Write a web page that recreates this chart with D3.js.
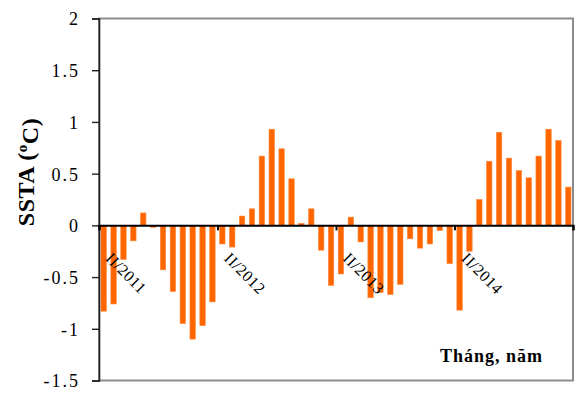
<!DOCTYPE html>
<html>
<head>
<meta charset='UTF-8'>
<title>SSTA</title>
<script src='https://d3js.org/d3.v7.min.js'></script>
<style>
  body { margin: 0; background: #fff; }
</style>
</head>
<body>
<div id='chart'></div>
<script>
// monthly SSTA, Jan 2011 - Dec 2014
var months = d3.range(48);
var ssta = [
  -0.83, -0.76, -0.33, -0.15, 0.12, -0.02, -0.43, -0.64, -0.95, -1.10, -0.97, -0.74,
  -0.18, -0.21, 0.09, 0.16, 0.67, 0.93, 0.74, 0.45, 0.02, 0.16, -0.24, -0.58,
  -0.47, 0.08, -0.16, -0.70, -0.65, -0.67, -0.57, -0.13, -0.22, -0.18, -0.05, -0.37,
  -0.82, -0.25, 0.25, 0.62, 0.90, 0.65, 0.53, 0.46, 0.67, 0.93, 0.82, 0.37
];
var yTicks = [-1.5, -1, -0.5, 0, 0.5, 1, 1.5, 2];
var yearTicks = [0, 12, 24, 36, 48];
var labelMonths = [0, 12, 24, 36];
var labelTexts = ['II/2011', 'II/2012', 'II/2013', 'II/2014'];

var width = 578, height = 394;
var plot = {left: 99, right: 573, top: 18.5, bottom: 380.5};
var serif = '"Liberation Serif", "Times New Roman", Times, serif';

var svg = d3.select('#chart').append('svg')
    .attr('width', width)
    .attr('height', height)
    .style('font-family', serif);

var x = d3.scaleBand()
    .domain(months)
    .range([plot.left, plot.right])
    .paddingInner(0.45)
    .paddingOuter(0.2);

var xLin = d3.scaleLinear()
    .domain([0, 48])
    .range([plot.left, plot.right]);

var y = d3.scaleLinear()
    .domain([-1.5, 2])
    .range([plot.bottom, plot.top]);

// plot frame
svg.append('rect')
   .attr('x', plot.left).attr('y', plot.top)
   .attr('width', plot.right - plot.left).attr('height', plot.bottom - plot.top)
   .attr('fill', 'none')
   .attr('stroke', '#8c8c8c')
   .attr('stroke-width', 2);

// bars
svg.selectAll('rect.bar')
   .data(ssta)
   .enter()
   .append('rect')
   .attr('class', 'bar')
   .attr('x', (d, i) => x(i))
   .attr('y', d => y(Math.max(0, d)))
   .attr('width', x.bandwidth())
   .attr('height', d => Math.abs(y(d) - y(0)))
   .attr('fill', '#ff6600')
   .attr('stroke', '#ff8a3d')
   .attr('stroke-width', 0.6);

// y axis
var yAxis = svg.append('g')
   .attr('transform', 'translate(' + plot.left + ',0)')
   .call(d3.axisLeft(y).tickValues(yTicks).tickSize(7).tickPadding(12).tickFormat(d => String(d)));
yAxis.attr('font-family', null);
yAxis.select('.domain').attr('stroke', '#222').attr('stroke-width', 1.6);
yAxis.selectAll('.tick line').attr('stroke', '#222').attr('stroke-width', 1.4);
yAxis.selectAll('.tick text')
     .style('font-family', serif)
     .style('font-size', '18px')
     .style('letter-spacing', '2px')
     .attr('dy', '0.36em')
     .attr('fill', '#000');

// zero line with yearly ticks
var xAxis = svg.append('g')
   .attr('transform', 'translate(0,' + y(0) + ')')
   .call(d3.axisBottom(xLin).tickValues(yearTicks).tickSize(5).tickFormat(''));
xAxis.select('.domain').attr('stroke', '#000').attr('stroke-width', 2);
xAxis.selectAll('.tick line').attr('stroke', '#000').attr('stroke-width', 2);

// rotated month labels
svg.selectAll('text.xlab')
   .data(labelMonths)
   .enter()
   .append('text')
   .attr('class', 'xlab')
   .attr('transform', (d, i) => 'translate(' + (x(d) + x.bandwidth() / 2 + 1) + ',' + (y(0) + 34) + ') rotate(45)')
   .style('font-family', serif)
   .style('font-size', '16px')
   .style('letter-spacing', '0.5px')
   .text((d, i) => labelTexts[i]);

// axis titles
var yt = svg.append('text')
   .attr('transform', 'translate(34,172) rotate(-90)')
   .attr('text-anchor', 'middle')
   .style('font-family', serif)
   .style('font-size', '24px')
   .style('font-weight', 'bold')
   .style('letter-spacing', '0.5px');
yt.append('tspan').text('SSTA (');
yt.append('tspan').attr('dy', '-0.45em').style('font-size', '15px').text('o');
yt.append('tspan').attr('dy', '0.45em').text('C)');

svg.append('text')
   .attr('x', 440)
   .attr('y', 362)
   .style('font-family', serif)
   .style('font-size', '18px')
   .style('font-weight', 'bold')
   .style('letter-spacing', '1px')
   .text('Tháng, năm');
</script>
</body>
</html>
